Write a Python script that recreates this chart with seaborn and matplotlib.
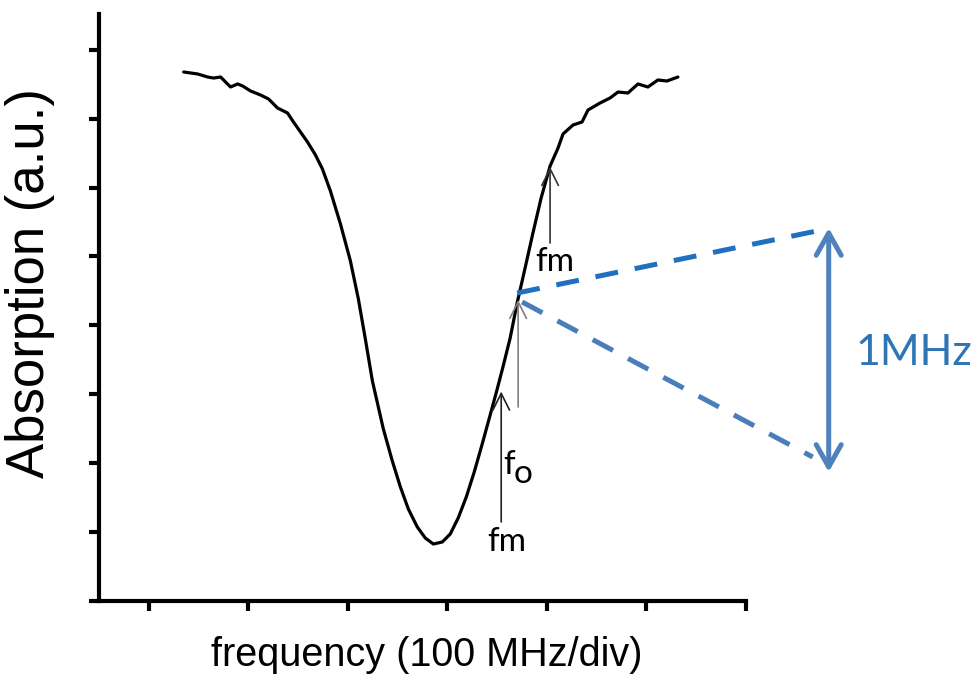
import seaborn as sns
import matplotlib.pyplot as plt
import pandas as pd

# absorption trace (x in divisions, y in tick units)
frequency = [1.351, 1.491, 1.592, 1.652, 1.722, 1.822, 1.893, 1.943, 2.023, 2.123,
             2.204, 2.294, 2.394, 2.454, 2.595, 2.675, 2.745, 2.825, 2.926, 3.026,
             3.106, 3.176, 3.247, 3.357, 3.447, 3.528, 3.608, 3.698, 3.778, 3.859,
             3.949, 4.029, 4.109, 4.190, 4.270, 4.350, 4.430, 4.501, 4.561, 4.631,
             4.701, 4.781, 4.862, 4.942, 5.032, 5.112, 5.162, 5.263, 5.353, 5.413,
             5.534, 5.634, 5.714, 5.814, 5.915, 6.015, 6.115, 6.206, 6.316]
absorption = [7.678, 7.649, 7.605, 7.590, 7.605, 7.460, 7.504, 7.475, 7.402, 7.344,
              7.286, 7.155, 7.083, 6.952, 6.662, 6.473, 6.270, 5.951, 5.472, 4.935,
              4.383, 3.803, 3.193, 2.496, 2.032, 1.655, 1.335, 1.074, 0.914, 0.827,
              0.856, 0.972, 1.205, 1.509, 1.872, 2.278, 2.699, 3.077, 3.411, 3.817,
              4.326, 4.833, 5.356, 5.849, 6.313, 6.575, 6.778, 6.909, 6.952, 7.126,
              7.228, 7.300, 7.387, 7.373, 7.504, 7.460, 7.562, 7.547, 7.605]

x_ticks = [1, 2, 3, 4, 5, 6, 7]
y_ticks = [0, 1, 2, 3, 4, 5, 6, 7, 8]

# modulation arrows: x, y start, y end
fm_high = [5.032, 5.196, 6.300]
f_zero = [4.711, 2.816, 4.370]
fm_low = [4.541, 1.147, 3.040]

# blue sketch: dashed rays and the 1MHz span
ray_top_x = [4.701, 7.710]
ray_top_y = [4.470, 5.370]
ray_bot_x = [4.751, 7.670]
ray_bot_y = [4.340, 2.090]
span = [7.831, 1.872, 5.414]

df = pd.DataFrame({'frequency': frequency, 'absorption': absorption})

sns.set_style('ticks')
plt.rcParams['font.family'] = ['Liberation Sans', 'DejaVu Sans']

fig = plt.figure(figsize=(9.74, 6.78), dpi=100)
ax = fig.add_axes([0.1016, 0.1136, 0.6643, 0.8658])

sns.lineplot(data=df, x='frequency', y='absorption', color='black', linewidth=2.3, ax=ax)

ax.set_xlim(0.5, 7.0)
ax.set_ylim(0, 8.52)
ax.set_xticks(x_ticks)
ax.set_yticks(y_ticks)
ax.set_xticklabels([])
ax.set_yticklabels([])
ax.set_xlabel('')
ax.set_ylabel('')
ax.tick_params(direction='out', length=7.5, width=3, color='black')
sns.despine(ax=ax)
for s in ['left', 'bottom']:
    ax.spines[s].set_linewidth(3)
    ax.spines[s].set_color('black')

# thin arrows under the curve
for arr, col in [(fm_high, '#333333'), (f_zero, '#7f7f7f'), (fm_low, '#222222')]:
    ax.annotate('', xy=(arr[0], arr[2]), xytext=(arr[0], arr[1]),
                arrowprops=dict(arrowstyle='->,head_length=0.6,head_width=0.3',
                                color=col, lw=1.2, shrinkA=0, shrinkB=0,
                                mutation_scale=20))

lab = dict(family=['Lato', 'DejaVu Sans'], fontsize=24, color='black',
           ha='center', va='center')
ax.text(5.082, 4.92, 'fm', **lab)
ax.text(4.601, 0.86, 'fm', **lab)
ax.text(4.615, 1.98, 'f', **lab)
ax.text(4.765, 1.84, 'o', **lab)

# blue dashed rays
ax.plot(ray_top_x, ray_top_y, color='#2070C0', lw=3.6, linestyle=(0, (4.6, 3.4)),
        clip_on=False, dash_capstyle='butt')
ax.plot(ray_bot_x, ray_bot_y, color='#4A7EBB', lw=3.6, linestyle=(0, (4.6, 3.4)),
        clip_on=False, dash_capstyle='butt')

ax.annotate('', xy=(span[0], span[2]), xytext=(span[0], span[1]),
            arrowprops=dict(arrowstyle='<->,head_length=0.8,head_width=0.45',
                            color='#4F81BD', lw=3.6, shrinkA=0, shrinkB=0,
                            mutation_scale=20),
            annotation_clip=False)
ax.text(8.69, 3.6, '1MHz', family=['Lato', 'DejaVu Sans'], fontsize=31,
        color='#2E75B6', ha='center', va='center', clip_on=False)

fig.text(30 / 974, 1 - 283 / 678, 'Absorption (a.u.)', rotation=90,
         fontsize=38, ha='center', va='center', color='black')
fig.text(427 / 974, 1 - 655 / 678, 'frequency (100 MHz/div)', fontsize=28.5,
         ha='center', va='center', color='black')

fig.savefig('out.png', dpi=100)
